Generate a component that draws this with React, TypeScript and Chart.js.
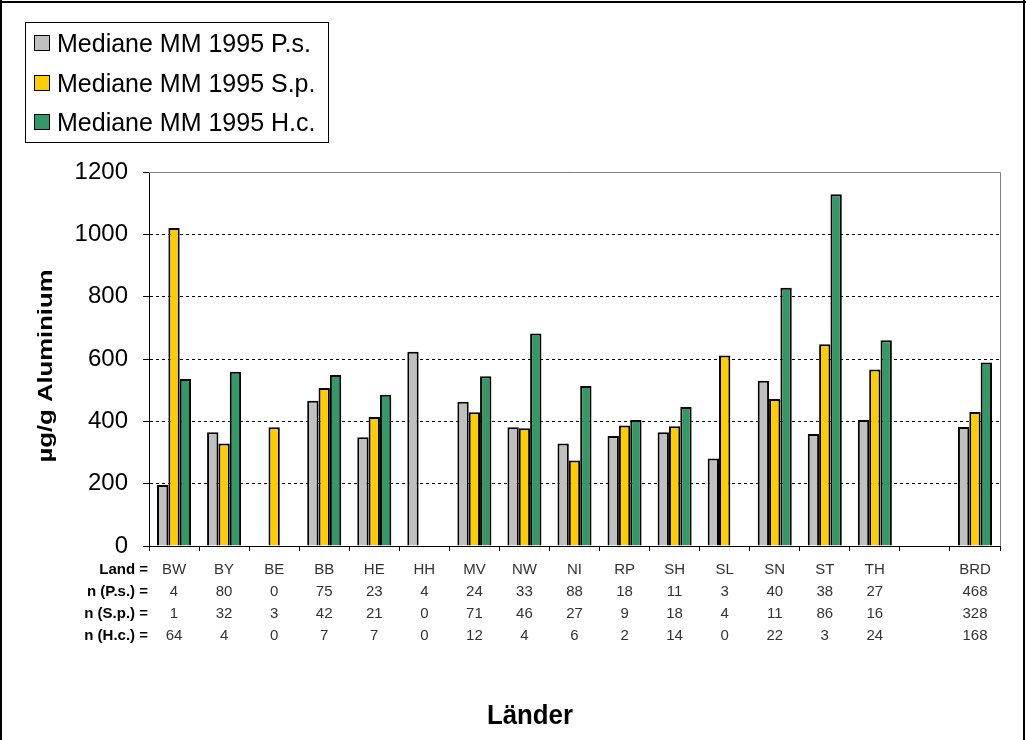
import { useEffect, useRef } from "react";
import { Chart, registerables } from "chart.js";

Chart.register(...registerables);

const lands = ["BW", "BY", "BE", "BB", "HE", "HH", "MV", "NW", "NI", "RP", "SH", "SL", "SN", "ST", "TH", "", "BRD"];
const nPs = ["4", "80", "0", "75", "23", "4", "24", "33", "88", "18", "11", "3", "40", "38", "27", "", "468"];
const nSp = ["1", "32", "3", "42", "21", "0", "71", "46", "27", "9", "18", "4", "11", "86", "16", "", "328"];
const nHc = ["64", "4", "0", "7", "7", "0", "12", "4", "6", "2", "14", "0", "22", "3", "24", "", "168"];

const medianPs = [196, 365, null, 466, 349, 623, 463, 381, 329, 353, 365, 281, 530, 359, 404, null, 382];
const medianSp = [1020, 329, 381, 507, 414, null, 429, 378, 274, 387, 384, 611, 472, 647, 566, null, 430];
const medianHc = [536, 559, null, 549, 485, null, 545, 682, 513, 404, 446, null, 829, 1129, 660, null, 589];

const seriesLabels = ["Mediane MM 1995 P.s.", "Mediane MM 1995 S.p.", "Mediane MM 1995 H.c."];
const seriesColors = ["#C0C0C0", "#FFCC00", "#339966"];
const rowLabels = ["Land =", "n (P.s.) =", "n (S.p.) =", "n (H.c.) ="];
const yTitle = "µg/g Aluminium";
const xTitle = "Länder";

const FONT = "'Liberation Sans', Arial, Helvetica, sans-serif";

const decorPlugin = {
  id: "decor",
  beforeDraw(chart: any) {
    const ctx = chart.ctx;
    ctx.save();
    ctx.fillStyle = "#ffffff";
    ctx.fillRect(0, 0, chart.width, chart.height);
    ctx.restore();
  },
  afterDraw(chart: any) {
    const ctx = chart.ctx;
    const { left, right, top, bottom } = chart.chartArea;
    ctx.save();
    // grey plot border (top and right)
    ctx.strokeStyle = "#808080";
    ctx.lineWidth = 1;
    ctx.setLineDash([]);
    ctx.beginPath();
    ctx.moveTo(left, Math.round(top) + 0.5);
    ctx.lineTo(Math.round(right) + 0.5, Math.round(top) + 0.5);
    ctx.lineTo(Math.round(right) + 0.5, bottom);
    ctx.stroke();

    // outer frame
    ctx.fillStyle = "#000";
    ctx.fillRect(0, 0, 2, chart.height);
    ctx.fillRect(0, 1, chart.width, 2);
    ctx.fillRect(chart.width - 3, 0, 2, chart.height);

    // legend
    ctx.strokeStyle = "#000";
    ctx.lineWidth = 1;
    ctx.strokeRect(25.5, 22.5, 303, 120);
    const rows = [43, 83, 122];
    ctx.font = `25px ${FONT}`;
    ctx.textAlign = "left";
    ctx.textBaseline = "alphabetic";
    chart.data.datasets.forEach((ds: any, i: number) => {
      const cy = rows[i];
      ctx.fillStyle = ds.backgroundColor;
      ctx.fillRect(34, cy - 8, 16, 16);
      ctx.strokeStyle = "#000";
      ctx.strokeRect(34.5, cy - 7.5, 15, 15);
      ctx.fillStyle = "#000";
      ctx.fillText(ds.label, 57, cy + 9);
    });

    // table row labels
    ctx.font = `bold 15px ${FONT}`;
    ctx.textAlign = "right";
    ctx.textBaseline = "middle";
    ctx.fillStyle = "#000";
    rowLabels.forEach((t, i) => {
      ctx.fillText(t, 148, 570 + i * 22);
    });

    // y title
    ctx.save();
    ctx.translate(46, 366);
    ctx.rotate(-Math.PI / 2);
    ctx.font = `bold 21px ${FONT}`;
    const w = ctx.measureText(yTitle).width;
    ctx.scale(193 / w, 1);
    ctx.textAlign = "center";
    ctx.textBaseline = "middle";
    ctx.fillText(yTitle, 0, 0);
    ctx.restore();

    // x title
    ctx.save();
    ctx.translate(530, 724);
    ctx.font = `bold 27px ${FONT}`;
    const w2 = ctx.measureText(xTitle).width;
    ctx.scale(86 / w2, 1);
    ctx.textAlign = "center";
    ctx.textBaseline = "alphabetic";
    ctx.fillText(xTitle, 0, 0);
    ctx.restore();

    ctx.restore();
  },
};

export default function App() {
  const ref = useRef<HTMLCanvasElement | null>(null);

  useEffect(() => {
    if (!ref.current) return;
    const chart = new Chart(ref.current, {
      type: "bar",
      data: {
        labels: lands.map((l, i) => (l === "" ? " ".repeat(i) : l)),
        datasets: [medianPs, medianSp, medianHc].map((d, i) => ({
          label: seriesLabels[i],
          data: d,
          backgroundColor: seriesColors[i],
          borderColor: "#000",
          borderWidth: 2,
          barPercentage: 1,
          categoryPercentage: 0.68,
        })),
      },
      options: {
        responsive: false,
        animation: false,
        devicePixelRatio: 1,
        layout: { padding: { left: 0, top: 172, right: 26, bottom: 0 } },
        plugins: {
          legend: { display: false },
          tooltip: { enabled: false },
        },
        scales: {
          x: {
            offset: true,
            grid: {
              display: true,
              offset: true,
              drawOnChartArea: false,
              drawTicks: true,
              tickLength: 5,
              tickColor: "#000",
              color: "#000",
            },
            border: { display: true, color: "#000", width: 1 },
            ticks: {
              autoSkip: false,
              maxRotation: 0,
              minRotation: 0,
              padding: 8,
              color: "#333",
              font: { family: FONT, size: 15, lineHeight: 22 / 15 },
              callback: (_v: any, i: number) => [lands[i], nPs[i], nSp[i], nHc[i]],
            },
            afterFit: (s: any) => {
              s.height = 194;
            },
          },
          y: {
            min: 0,
            max: 1200,
            ticks: {
              stepSize: 200,
              padding: 15,
              color: "#000",
              font: { family: FONT, size: 24 },
              callback: (v: any) => String(v),
            },
            grid: {
              drawTicks: true,
              tickLength: 6,
              tickColor: "#000",
              tickBorderDash: [],
              color: (c: any) =>
                c.tick && (c.tick.value === 0 || c.tick.value === 1200) ? "rgba(0,0,0,0)" : "#000",
              lineWidth: 1,
            },
            border: { display: true, color: "#000", width: 1, dash: [3, 3] },
            afterFit: (s: any) => {
              s.width = 149;
            },
          },
        },
      },
      plugins: [decorPlugin],
    });
    return () => chart.destroy();
  }, []);

  return (
    <div style={{ position: "absolute", left: 0, top: 0, width: 1026, height: 740, background: "#fff" }}>
      <canvas ref={ref} width={1026} height={740} style={{ display: "block" }} />
    </div>
  );
}
